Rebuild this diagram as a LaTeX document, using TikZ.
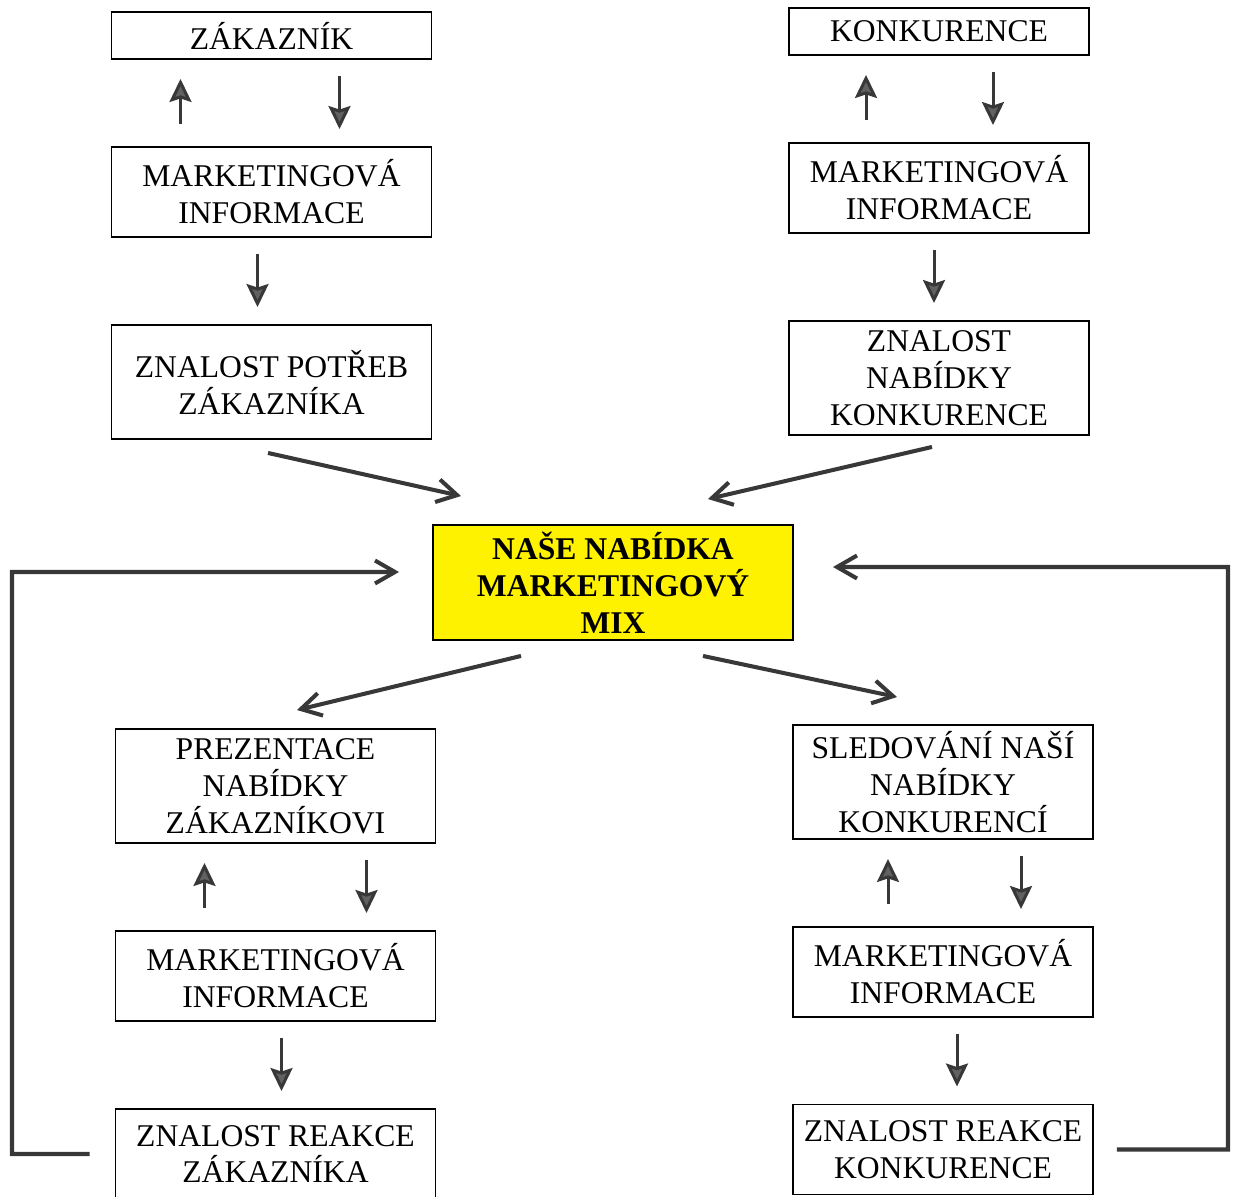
\documentclass[tikz,border=0pt]{standalone}
\usepackage{fontspec}
\setmainfont{Liberation Serif}
\usetikzlibrary{positioning, arrows.meta}

\begin{document}
\begin{tikzpicture}[node distance=3cm, on grid,
    box/.style={draw, line width=1.1pt, align=center, font=\fontsize{18}{21}\selectfont,
                minimum width=6.4cm, minimum height=0.94cm, inner sep=0pt},
    narrow/.style={minimum width=6cm},
    two/.style={minimum height=1.8cm},
    three/.style={minimum height=2.28cm},
    mixbox/.style={box, fill=yellow, font=\fontsize{18}{21}\selectfont\bfseries,
                minimum width=7.2cm, minimum height=2.3cm},
    tri/.style={color=black!78, line width=1.7pt, -{Stealth[width=0.44cm, length=0.46cm, inset=0.07cm, fill=black!62]}},
    barb/.style={color=black!78, line width=2.3pt, -{Straight Barb[length=0.4cm, width=0.46cm]}}
    ]
    \useasboundingbox (0,0) rectangle (24.68,-23.94);

    % customer side
    \node[box]              (zak)      at (5.43,-0.71) {ZÁKAZNÍK};
    \node[box, two]         (infoa)    [below=3.13cm of zak] {MARKETINGOVÁ\\INFORMACE};
    \node[box, three]       (potreby)  [below=3.8cm of infoa] {ZNALOST POTŘEB\\ZÁKAZNÍKA};
    \node[box, three]       (prez)     at (5.51,-15.72) {PREZENTACE\\NABÍDKY\\ZÁKAZNÍKOVI};
    \node[box, two]         (infoc)    [below=3.8cm of prez] {MARKETINGOVÁ\\INFORMACE};
    \node[box, two]         (reakcez)  [below=3.56cm of infoc] {ZNALOST REAKCE\\ZÁKAZNÍKA};

    % competition side
    \node[box, narrow]        (konk)     at (18.78,-0.63) {KONKURENCE};
    \node[box, narrow, two]   (infob)    [below=3.13cm of konk] {MARKETINGOVÁ\\INFORMACE};
    \node[box, narrow, three] (nabkonk)  [below=3.8cm of infob] {ZNALOST\\NABÍDKY\\KONKURENCE};
    \node[box, narrow, three] (sled)     at (18.86,-15.64) {SLEDOVÁNÍ NAŠÍ\\NABÍDKY\\KONKURENCÍ};
    \node[box, narrow, two]   (infod)    [below=3.8cm of sled] {MARKETINGOVÁ\\INFORMACE};
    \node[box, narrow, two]   (reakcek)  [below=3.55cm of infod] {ZNALOST REAKCE\\KONKURENCE};

    % our offer
    \node[mixbox] (mix) at (12.26,-11.65) {NAŠE NABÍDKA\\MARKETINGOVÝ\\MIX};

    \coordinate (lcorner) at (0.24,-11.44);
    \coordinate (rcorner) at (24.56,-11.34);

    % short arrows
    \path[tri, shorten <=0.44cm, shorten >=0.38cm]
        ([xshift=-1.82cm]infoa.north) edge ([xshift=-1.82cm]zak.south)
        ([xshift=-1.46cm]infob.north) edge ([xshift=-1.46cm]konk.south)
        ([xshift=-1.42cm]infoc.north) edge ([xshift=-1.42cm]prez.south)
        ([xshift=-1.1cm]infod.north)  edge ([xshift=-1.1cm]sled.south);
    \path[tri, shorten <=0.32cm, shorten >=0.34cm]
        ([xshift=1.36cm]zak.south)   edge ([xshift=1.36cm]infoa.north)
        ([xshift=1.08cm]konk.south)  edge ([xshift=1.08cm]infob.north)
        ([xshift=1.82cm]prez.south)  edge ([xshift=1.82cm]infoc.north)
        ([xshift=1.56cm]sled.south)  edge ([xshift=1.56cm]infod.north)
        ([xshift=-0.28cm]infoa.south) edge ([xshift=-0.28cm]potreby.north)
        ([xshift=-0.1cm]infob.south)  edge ([xshift=-0.1cm]nabkonk.north)
        ([xshift=0.12cm]infoc.south)  edge ([xshift=0.12cm]reakcez.north)
        ([xshift=0.28cm]infod.south)  edge ([xshift=0.28cm]reakcek.north);

    % long arrows
    \path[barb]
        ([shift={(-0.07cm,-0.26cm)}]potreby.south) edge ([shift={(0.58cm,0.56cm)}]mix.north west)
        ([shift={(-0.14cm,-0.22cm)}]nabkonk.south) edge ([shift={(-1.72cm,0.5cm)}]mix.north east)
        ([shift={(-1.84cm,-0.3cm)}]mix.south)      edge ([shift={(0.43cm,0.36cm)}]prez.north)
        ([shift={(1.8cm,-0.3cm)}]mix.south)        edge ([shift={(-0.92cm,0.54cm)}]sled.north);

    % feedback
    \draw[barb] ([xshift=-0.5cm]reakcez.west) -| (lcorner) -- ([shift={(-0.66cm,0.21cm)}]mix.west);
    \draw[barb] ([xshift=0.46cm]reakcek.east) -| (rcorner) -- ([shift={(0.78cm,0.31cm)}]mix.east);
\end{tikzpicture}
\end{document}
